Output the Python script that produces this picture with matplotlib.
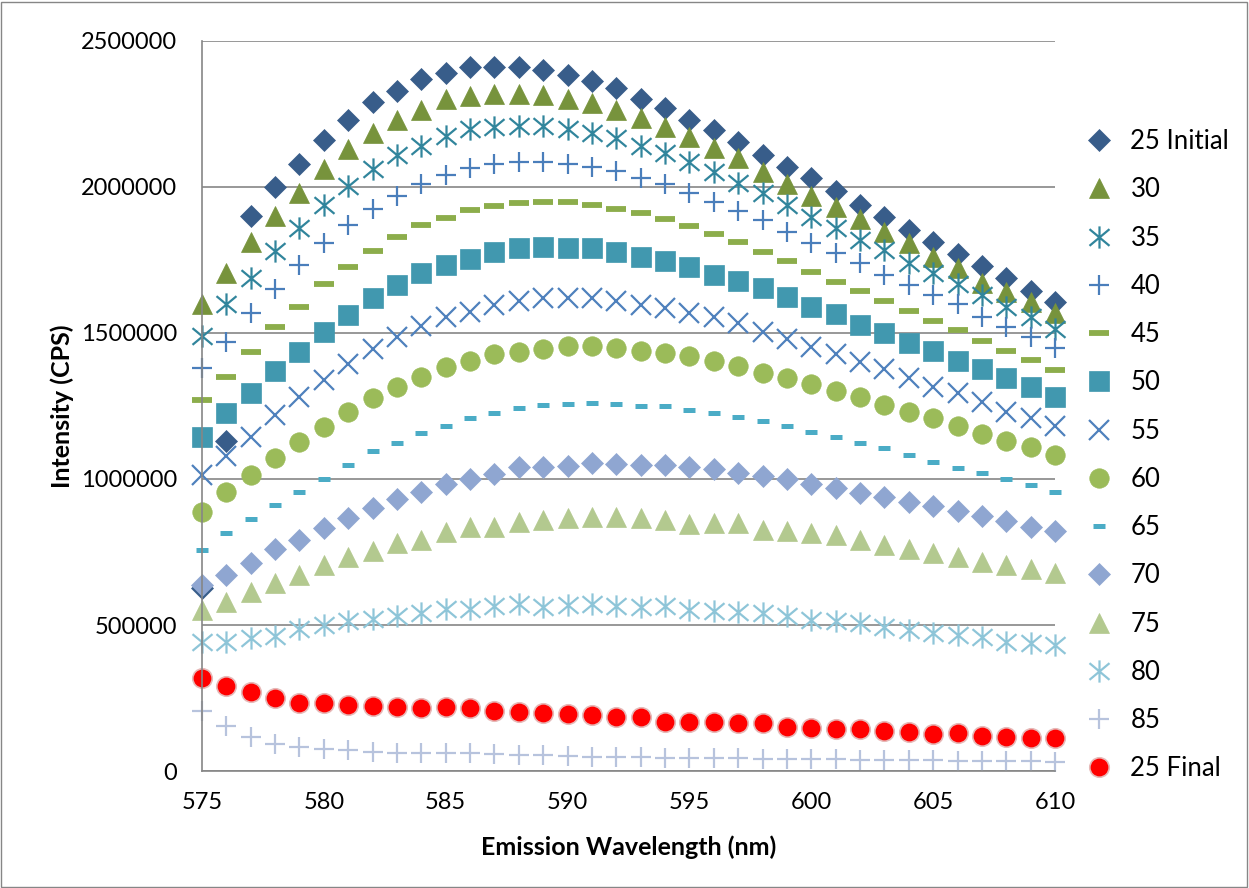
import numpy as np
import matplotlib.pyplot as plt
from matplotlib.path import Path
from matplotlib.patches import Rectangle

plt.rcParams['font.family'] = ['Lato', 'DejaVu Sans']

# emission wavelength (nm)
wavelength = np.arange(575, 611)

# intensities, in thousands of CPS
s25_initial = [628, 1130, 1900, 2000, 2080, 2160, 2230, 2290, 2330, 2370, 2390, 2410,
               2410, 2410, 2400, 2385, 2362, 2340, 2303, 2270, 2230, 2195, 2153, 2110,
               2070, 2030, 1985, 1940, 1897, 1852, 1810, 1770, 1730, 1688, 1645, 1605]
s30 = [1600, 1705, 1810, 1900, 1980, 2060, 2130, 2185, 2230, 2265, 2300, 2310,
       2320, 2320, 2315, 2300, 2288, 2262, 2235, 2205, 2170, 2133, 2100, 2052,
       2010, 1970, 1930, 1890, 1845, 1808, 1760, 1722, 1670, 1640, 1605, 1570]
s35 = [1490, 1600, 1690, 1780, 1860, 1940, 2005, 2060, 2110, 2140, 2175, 2200,
       2205, 2210, 2210, 2200, 2185, 2168, 2142, 2115, 2085, 2050, 2012, 1978,
       1938, 1897, 1860, 1820, 1785, 1740, 1705, 1668, 1630, 1590, 1555, 1512]
s40 = [1380, 1470, 1570, 1650, 1733, 1808, 1870, 1925, 1970, 2010, 2040, 2065,
       2080, 2085, 2085, 2080, 2070, 2055, 2030, 2010, 1980, 1950, 1917, 1887,
       1846, 1808, 1775, 1740, 1700, 1665, 1630, 1598, 1555, 1520, 1485, 1450]
s45 = [1270, 1350, 1435, 1520, 1590, 1668, 1725, 1780, 1830, 1870, 1895, 1920,
       1935, 1945, 1950, 1950, 1940, 1925, 1910, 1890, 1865, 1840, 1810, 1778,
       1745, 1710, 1675, 1645, 1610, 1575, 1540, 1510, 1472, 1440, 1407, 1373]
s50 = [1145, 1225, 1295, 1370, 1435, 1505, 1562, 1620, 1665, 1705, 1732, 1755,
       1778, 1790, 1795, 1790, 1790, 1778, 1760, 1745, 1725, 1700, 1678, 1655,
       1622, 1590, 1565, 1528, 1500, 1465, 1438, 1405, 1375, 1345, 1315, 1282]
s55 = [1015, 1080, 1145, 1220, 1280, 1340, 1393, 1445, 1487, 1525, 1555, 1572,
       1596, 1610, 1620, 1620, 1620, 1610, 1596, 1585, 1570, 1555, 1535, 1505,
       1480, 1452, 1428, 1400, 1375, 1345, 1315, 1295, 1265, 1230, 1210, 1180]
s60 = [887, 955, 1014, 1072, 1127, 1178, 1230, 1278, 1315, 1350, 1384, 1404,
       1428, 1435, 1445, 1455, 1455, 1449, 1440, 1430, 1420, 1404, 1387, 1363,
       1346, 1325, 1300, 1280, 1253, 1230, 1209, 1180, 1154, 1130, 1110, 1082]
s65 = [757, 815, 863, 911, 956, 1000, 1048, 1096, 1123, 1158, 1180, 1210,
       1226, 1243, 1254, 1257, 1260, 1257, 1250, 1250, 1236, 1226, 1212, 1199,
       1180, 1160, 1144, 1123, 1106, 1082, 1058, 1038, 1020, 1000, 980, 956]
s70 = [637, 671, 712, 760, 790, 833, 867, 900, 930, 955, 983, 1000,
       1017, 1040, 1040, 1045, 1055, 1050, 1048, 1048, 1040, 1034, 1020, 1010,
       1000, 983, 969, 952, 938, 921, 907, 890, 873, 856, 836, 822]
s75 = [551, 579, 613, 644, 671, 706, 733, 754, 781, 790, 818, 836,
       836, 853, 860, 867, 870, 870, 867, 860, 845, 850, 848, 825,
       822, 815, 808, 790, 774, 760, 747, 733, 716, 706, 692, 678]
s80 = [442, 442, 455, 462, 486, 500, 514, 520, 531, 541, 555, 555,
       565, 572, 562, 569, 572, 565, 562, 565, 551, 548, 545, 541,
       531, 517, 514, 507, 493, 483, 473, 466, 459, 442, 438, 432]
s85 = [205, 154, 116, 92, 82, 75, 72, 65, 62, 62, 62, 60,
       58, 55, 55, 51, 48, 48, 48, 45, 45, 44, 43, 42,
       41, 40, 40, 38, 37, 37, 36, 35, 34, 34, 33, 32]
s25_final = [318, 291, 270, 250, 233, 233, 226, 223, 219, 216, 219, 216,
             206, 202, 199, 195, 192, 185, 185, 168, 168, 168, 164, 164,
             151, 147, 144, 144, 137, 134, 127, 130, 120, 116, 113, 113]

labels = ['25 Initial', '30', '35', '40', '45', '50', '55', '60', '65',
          '70', '75', '80', '85', '25 Final']
series = [s25_initial, s30, s35, s40, s45, s50, s55, s60, s65,
          s70, s75, s80, s85, s25_final]

# excel-like asterisk: vertical bar plus an X
asterisk = Path([(0, -1), (0, 1), (-0.9, -0.75), (0.9, 0.75), (-0.9, 0.75), (0.9, -0.75)],
                [Path.MOVETO, Path.LINETO, Path.MOVETO, Path.LINETO, Path.MOVETO, Path.LINETO])

styles = [
    dict(marker='D', ms=11.5, mfc='#385D8A', mec='#385D8A', mew=0.5),
    dict(marker='^', ms=15, mfc='#77933C', mec='#77933C', mew=0.5),
    dict(marker=asterisk, ms=16, mfc='none', mec='#31859C', mew=1.6),
    dict(marker='+', ms=15, mec='#4A7EBB', mew=1.6),
    dict(marker='_', ms=14, mec='#8CAD4B', mew=4.2),
    dict(marker='s', ms=14, mfc='#4198AF', mec='#4198AF', mew=0.5),
    dict(marker='x', ms=14, mec='#4F81BD', mew=1.6),
    dict(marker='o', ms=14, mfc='#9BBB59', mec='#9BBB59', mew=0.5),
    dict(marker='_', ms=8, mec='#4BACC6', mew=3.6),
    dict(marker='D', ms=11.5, mfc='#8FA6D1', mec='#8FA6D1', mew=0.5),
    dict(marker='^', ms=15, mfc='#B3C98F', mec='#B3C98F', mew=0.5),
    dict(marker=asterisk, ms=16, mfc='none', mec='#8EC5D8', mew=1.6),
    dict(marker='+', ms=15, mec='#B7C3DD', mew=1.6),
    dict(marker='o', ms=14, mfc='#FF0000', mec='#E6B9B8', mew=1.2),
]

fig = plt.figure(figsize=(12.49, 8.88), dpi=100)
ax = fig.add_axes([202 / 1249, 1 - 771 / 888, (1055 - 202) / 1249, (771 - 41) / 888])

for lab, vals, st in zip(labels, series, styles):
    ax.plot(wavelength, np.array(vals) * 1000, linestyle='none', label=lab,
            clip_on=False, **st)

ax.set_xlim(575, 610)
ax.set_ylim(0, 2500000)
ax.set_xticks(np.arange(575, 611, 5))
ax.set_yticks(np.arange(0, 2500001, 500000))
ax.set_yticklabels([str(v) for v in range(0, 2500001, 500000)])
ax.tick_params(axis='both', length=0, labelsize=17, colors='black')
ax.tick_params(axis='y', pad=18)
ax.tick_params(axis='x', pad=15)

ax.grid(axis='y', color='#868686', linewidth=1.2)
ax.set_axisbelow(True)
for side in ['top', 'right']:
    ax.spines[side].set_visible(False)
for side in ['left', 'bottom']:
    ax.spines[side].set_color('#868686')
    ax.spines[side].set_linewidth(1.2)

ax.set_xlabel('Emission Wavelength (nm)', fontsize=18, fontweight='bold', labelpad=16.5)
ax.set_ylabel('Intensity (CPS)', fontsize=18, fontweight='bold', labelpad=5)

leg = fig.legend(loc='upper left', bbox_to_anchor=(1087 / 1249, 1 - 129 / 888),
                 frameon=False, fontsize=18.5, handlelength=0.97, handletextpad=0.72,
                 labelspacing=0.905, borderpad=0, borderaxespad=0, numpoints=1)

# chart area border
fig.patches.append(Rectangle((0.001, 0.001), 0.997, 0.997, transform=fig.transFigure,
                             fill=False, edgecolor='#868686', linewidth=1))

fig.savefig('out.png', dpi=100)
